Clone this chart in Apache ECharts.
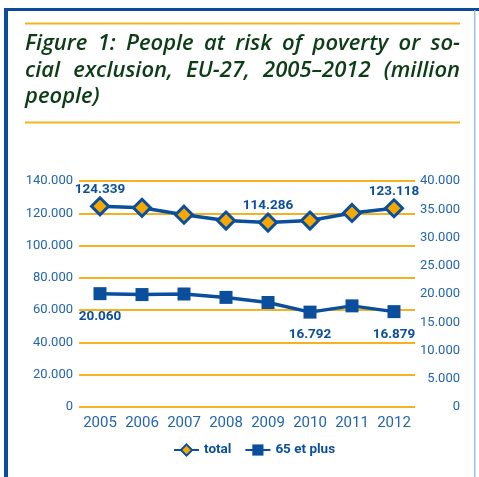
<!DOCTYPE html>
<html>
<head>
<meta charset="utf-8">
<script src="https://cdn.jsdelivr.net/npm/echarts@6/dist/echarts.min.js"></script>
<style>
	html,body{margin:0;padding:0;background:#fff;}
	#chart{width:479px;height:477px;}
</style>
</head>
<body>
<div id="chart"></div>
<script>
var years = ['2005','2006','2007','2008','2009','2010','2011','2012'];
var total = [124.339, 123.4, 119.1, 115.5, 114.286, 115.5, 120.2, 123.118];
var plus65 = [20.060, 19.9, 20.0, 19.4, 18.5, 16.792, 17.9, 16.879];
var totalLabelAt = [0, 4, 7];
var plus65LabelAt = [0, 5, 7];
var titleLines = [
	'Figure 1: People at risk of poverty or so-',
	'cial exclusion, EU-27, 2005\u20132012 (million',
	'people)'
];

!function(){
	'use strict';

	var blue = '#0b4f9c';
	var axisBlue = '#2366ae';
	var gold = '#f4b223';
	var orange = '#f6a800';
	var narrow = "Roboto, sans-serif";
	var titleFont = "italic 600 22px 'Open Sans'";

	function fmt(v){
		return v === 0 ? '0' : v.toFixed(3);
	}

	// justify the title lines between the two gold rules
	var ctx = document.createElement('canvas').getContext('2d');
	ctx.font = titleFont;
	var titleLeft = 25, titleRight = 460;
	var graphics = [
		{type:'rect', shape:{x:4, y:8, width:475, height:3}, style:{fill:'#0a4c9a'}},
		{type:'rect', shape:{x:4, y:8, width:4, height:469}, style:{fill:'#0a4c9a'}},
		{type:'rect', shape:{x:474, y:10, width:1.5, height:467}, style:{fill:'#9dbfe3'}},
		{type:'rect', shape:{x:titleLeft, y:22.5, width:titleRight-titleLeft, height:2}, style:{fill:gold}},
		{type:'rect', shape:{x:titleLeft, y:121.5, width:titleRight-titleLeft, height:2}, style:{fill:gold}}
	];
	titleLines.forEach(function(line, i){
		var y = 44 + i*26.5;
		var words = line.split(' ');
		var justify = i < titleLines.length - 1;
		var widths = words.map(function(w){ return ctx.measureText(w).width; });
		var sum = widths.reduce(function(a, b){ return a + b; }, 0);
		var gap = justify ? (titleRight - titleLeft - sum) / (words.length - 1) : ctx.measureText(' ').width;
		var x = titleLeft;
		words.forEach(function(w, j){
			graphics.push({
				type:'text', x:x, y:y,
				style:{text:w, font:titleFont, fill:'#0d3d17', verticalAlign:'middle'}
			});
			x += widths[j] + gap;
		});
	});

	function labelled(values, show, pos, dist){
		return values.map(function(v, i){
			return {value:v, label:{show:show.indexOf(i) >= 0, position:pos, distance:dist}};
		});
	}

	var chart = echarts.init(document.getElementById('chart'));
	chart.setOption({
		animation:false,
		graphic:graphics,
		grid:{left:79, right:64, top:181, bottom:70},
		legend:{
			bottom:15, left:168, itemGap:13, itemWidth:25, itemHeight:14,
			textStyle:{color:blue, fontFamily:narrow, fontWeight:'bold', fontSize:13.5},
			data:['total','65 et plus']
		},
		xAxis:{
			type:'category', data:years, boundaryGap:true,
			axisLine:{show:false}, axisTick:{show:false},
			axisLabel:{color:axisBlue, fontFamily:narrow, fontSize:15, margin:9, interval:0}
		},
		yAxis:[{
			type:'value', min:0, max:140, interval:20,
			axisLine:{show:false}, axisTick:{show:false},
			splitLine:{lineStyle:{color:gold, width:2}},
			axisLabel:{color:axisBlue, fontFamily:narrow, fontSize:13, margin:6, formatter:fmt}
		},{
			type:'value', min:0, max:40, interval:5,
			axisLine:{show:false}, axisTick:{show:false}, splitLine:{show:false},
			axisLabel:{color:axisBlue, fontFamily:narrow, fontSize:13, margin:45, align:'right', formatter:fmt}
		}],
		series:[{
			name:'total', type:'line', yAxisIndex:0,
			data:labelled(total, totalLabelAt, 'top', 0),
			symbol:'diamond', symbolSize:17,
			lineStyle:{color:blue, width:3.5},
			itemStyle:{color:orange, borderColor:blue, borderWidth:3},
			label:{color:blue, fontFamily:narrow, fontWeight:'bold', fontSize:13.5, formatter:function(p){ return p.value.toFixed(3); }},
			z:3
		},{
			name:'65 et plus', type:'line', yAxisIndex:1,
			data:labelled(plus65, plus65LabelAt, 'bottom', 9),
			symbol:'rect', symbolSize:13,
			lineStyle:{color:blue, width:3.5},
			itemStyle:{color:blue, borderRadius:2},
			label:{color:blue, fontFamily:narrow, fontWeight:'bold', fontSize:13.5, formatter:function(p){ return p.value.toFixed(3); }},
			z:3
		}]
	});
}();
</script>
</body>
</html>
